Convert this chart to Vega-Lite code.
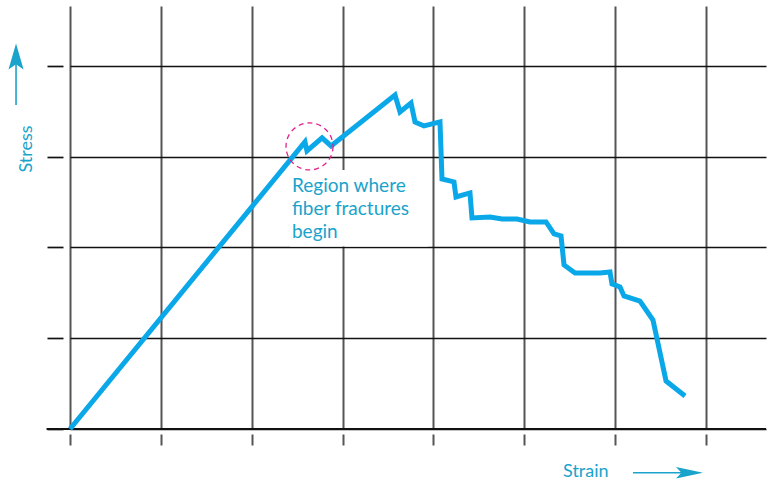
{
  "$schema": "https://vega.github.io/schema/vega-lite/v6.json",
  "width": 696,
  "height": 423,
  "autosize": {"type": "none"},
  "padding": {"left": 70, "top": 6, "right": 6, "bottom": 53},
  "background": "white",
  "config": {"view": {"stroke": null}, "font": "Lato"},
  "datasets": {
    "curve": [
      {"order": 1, "x": 0, "y": 0},
      {"order": 2, "x": 2.586, "y": 3.163},
      {"order": 3, "x": 2.608, "y": 3.063},
      {"order": 4, "x": 2.774, "y": 3.207},
      {"order": 5, "x": 2.873, "y": 3.118},
      {"order": 6, "x": 3.577, "y": 3.68},
      {"order": 7, "x": 3.632, "y": 3.493},
      {"order": 8, "x": 3.753, "y": 3.592},
      {"order": 9, "x": 3.797, "y": 3.383},
      {"order": 10, "x": 3.896, "y": 3.339},
      {"order": 11, "x": 4.072, "y": 3.383},
      {"order": 12, "x": 4.094, "y": 2.755},
      {"order": 13, "x": 4.226, "y": 2.722},
      {"order": 14, "x": 4.248, "y": 2.556},
      {"order": 15, "x": 4.402, "y": 2.601},
      {"order": 16, "x": 4.424, "y": 2.325},
      {"order": 17, "x": 4.623, "y": 2.336},
      {"order": 18, "x": 4.755, "y": 2.314},
      {"order": 19, "x": 4.92, "y": 2.314},
      {"order": 20, "x": 5.063, "y": 2.281},
      {"order": 21, "x": 5.239, "y": 2.281},
      {"order": 22, "x": 5.327, "y": 2.149},
      {"order": 23, "x": 5.404, "y": 2.127},
      {"order": 24, "x": 5.437, "y": 1.807},
      {"order": 25, "x": 5.558, "y": 1.719},
      {"order": 26, "x": 5.833, "y": 1.719},
      {"order": 27, "x": 5.943, "y": 1.73},
      {"order": 28, "x": 5.965, "y": 1.598},
      {"order": 29, "x": 6.053, "y": 1.565},
      {"order": 30, "x": 6.097, "y": 1.466},
      {"order": 31, "x": 6.273, "y": 1.41},
      {"order": 32, "x": 6.416, "y": 1.201},
      {"order": 33, "x": 6.56, "y": 0.529},
      {"order": 34, "x": 6.769, "y": 0.364}
    ],
    "baseline": [{"x": -0.258, "x2": 7.66, "y": 0}],
    "box": [{"x": 2.421, "x2": 3.94, "y": 2.01, "y2": 2.854}],
    "circle": [{"x": 2.636, "y": 3.113}],
    "note": [
      {"x": 2.443, "y": 2.612, "text": "Region where"},
      {"x": 2.443, "y": 2.358, "text": "fiber fractures"},
      {"x": 2.443, "y": 2.105, "text": "begin"}
    ],
    "xlabel": [{"x": 5.426, "y": -0.526, "text": "Strain"}],
    "ylabel": [{"x": -0.418, "y": 3.085, "text": "Stress"}],
    "shafts": [
      {"x": 6.196, "x2": 6.75, "y": -0.482, "y2": -0.482},
      {"x": -0.594, "x2": -0.594, "y": 3.57, "y2": 4.05}
    ],
    "headH": [{"x": 6.818, "y": -0.482}],
    "headV": [{"x": -0.594, "y": 4.105}]
  },
  "encoding": {
    "x": {"field": "x", "type": "quantitative",
          "scale": {"domain": [0, 7.66], "nice": false, "zero": false},
          "axis": {"values": [0, 1, 2, 3, 4, 5, 6, 7], "grid": true, "gridColor": "#555555", "gridWidth": 2,
                   "gridOpacity": 1, "ticks": true, "tickSize": 11, "tickColor": "#555555", "tickWidth": 2,
                   "offset": 5, "labels": false, "domain": false, "title": null}},
    "y": {"field": "y", "type": "quantitative",
          "scale": {"domain": [0, 4.66], "nice": false, "zero": false},
          "axis": {"values": [0, 1, 2, 3, 4], "grid": true, "gridColor": "#111111", "gridWidth": 1.7,
                   "gridOpacity": 1, "ticks": true, "tickSize": 16, "tickColor": "#111111", "tickWidth": 1.7,
                   "offset": 7, "labels": false, "domain": false, "title": null}}
  },
  "layer": [
    {
      "data": {"name": "baseline"},
      "mark": {"type": "rule", "color": "#111111", "strokeWidth": 1.8},
      "encoding": {"x2": {"field": "x2"}}
    },
    {
      "data": {"name": "box"},
      "mark": {"type": "rect", "color": "white"},
      "encoding": {"x2": {"field": "x2"}, "y2": {"field": "y2"}}
    },
    {
      "data": {"name": "curve"},
      "mark": {"type": "line", "color": "#0aa8e8", "strokeWidth": 5, "strokeJoin": "miter"},
      "encoding": {"order": {"field": "order"}}
    },
    {
      "data": {"name": "circle"},
      "mark": {"type": "point", "shape": "circle", "filled": false, "size": 2209, "stroke": "#e3208a", "strokeWidth": 1.3, "strokeDash": [5, 4], "opacity": 1}
    },
    {
      "data": {"name": "note"},
      "mark": {"type": "text", "align": "left", "baseline": "alphabetic", "fontSize": 19, "color": "#1aa3cb"},
      "encoding": {"text": {"field": "text"}}
    },
    {
      "data": {"name": "xlabel"},
      "mark": {"type": "text", "align": "left", "baseline": "alphabetic", "fontSize": 18, "color": "#1aa3cb"},
      "encoding": {"text": {"field": "text"}}
    },
    {
      "data": {"name": "ylabel"},
      "mark": {"type": "text", "align": "center", "baseline": "alphabetic", "angle": 270, "fontSize": 18, "color": "#1aa3cb"},
      "encoding": {"text": {"field": "text"}}
    },
    {
      "data": {"name": "shafts"},
      "mark": {"type": "rule", "color": "#1aa3cb", "strokeWidth": 1.6},
      "encoding": {"x2": {"field": "x2"}, "y2": {"field": "y2"}}
    },
    {
      "data": {"name": "headH"},
      "mark": {"type": "point", "shape": "M1,0L-1,-0.42L-0.6,0L-1,0.42Z", "size": 729, "filled": true, "color": "#1aa3cb", "opacity": 1, "strokeWidth": 0}
    },
    {
      "data": {"name": "headV"},
      "mark": {"type": "point", "shape": "M0,-1L0.58,1L0,0.6L-0.58,1Z", "size": 676, "filled": true, "color": "#1aa3cb", "opacity": 1, "strokeWidth": 0}
    }
  ]
}
